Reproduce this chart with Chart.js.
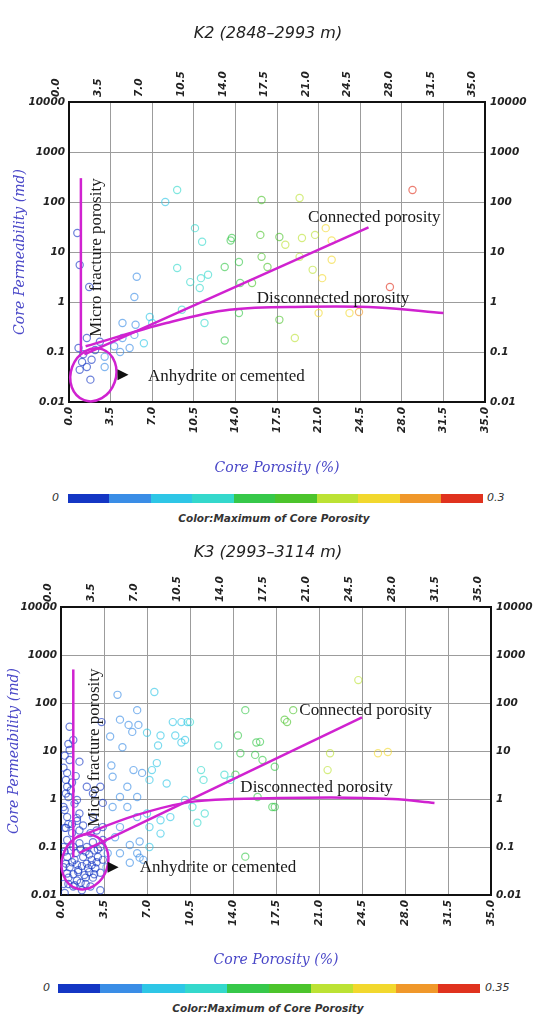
<!DOCTYPE html>
<html>
  <head>
    <meta charset="UTF-8" />
    <title>Core Porosity vs Core Permeability</title>
    <script src="https://cdn.jsdelivr.net/npm/chart.js"></script>
    <style>
      body {
        margin: 0;
        background: #fff;
        width: 536px;
        height: 1016px;
        position: relative;
        overflow: hidden;
      }
      canvas {
        position: absolute;
        left: 0;
      }
      .bar {
        position: absolute;
        height: 9px;
      }
      .barlabel {
        position: absolute;
        font: italic 11px "DejaVu Sans", sans-serif;
        color: #333;
        line-height: 12px;
      }
      .caption {
        position: absolute;
        width: 536px;
        text-align: center;
        font: italic bold 10.5px "DejaVu Sans", sans-serif;
        color: #333;
      }
    </style>
  </head>
  <body>
    <canvas id="k2" width="536" height="485" style="top: 0"></canvas>
    <div class="bar" id="bar2" style="left: 68px; top: 494px; width: 415px"></div>
    <div class="barlabel" style="left: 52px; top: 492px">0</div>
    <div class="barlabel" style="left: 487px; top: 492px">0.3</div>
    <div class="caption" style="left: 6px; top: 512px">Color:Maximum of Core Porosity</div>

    <canvas id="k3" width="536" height="460" style="top: 520px"></canvas>
    <div class="bar" id="bar3" style="left: 58px; top: 984px; width: 422px"></div>
    <div class="barlabel" style="left: 43px; top: 982px">0</div>
    <div class="barlabel" style="left: 485px; top: 982px">0.35</div>
    <div class="caption" style="left: 0px; top: 1002px">Color:Maximum of Core Porosity</div>

    <script>
      const porosityTicks = [0, 3.5, 7, 10.5, 14, 17.5, 21, 24.5, 28, 31.5, 35];
      const permTicks = [0.01, 0.1, 1, 10, 100, 1000, 10000];
      const colorScale = [
        "#1436c4", "#3a8de6", "#2ec6e6", "#34d8cc", "#36c84a",
        "#4cc42c", "#bce234", "#f2d82e", "#f0982a", "#e0321e",
      ];

      // K2 (2848-2993 m) core samples
      const k2Porosity = [
        9.1, 8.1, 10.6, 11.2, 13.6, 9.1, 10.2, 11.1, 11.7, 13.1, 11.0, 0.7, 0.9, 5.7, 5.5,
        1.7, 9.5, 11.4, 13.1, 4.5, 5.6, 5.5, 7.0, 6.3, 5.1, 2.6, 3.8, 1.5, 1.1, 1.5, 0.9,
        1.8, 3.0, 3.0, 4.5, 4.3, 28.9, 16.2, 19.4, 13.7, 16.1, 17.7, 18.2, 19.6, 20.7, 21.6,
        22.1, 14.3, 16.2, 16.7, 14.4, 15.4, 19.4, 20.5, 22.1, 21.3, 27.0, 23.6, 24.4, 17.7,
        19.0, 14.3, 21.0, 1.2, 2.2, 0.8, 1.9, 6.8,
      ];
      const k2Perm = [
        174, 100, 30, 16, 17, 4.8, 2.5, 3, 3.5, 5, 1.9, 24, 5.5, 3.2, 1.26,
        2, 0.7, 0.38, 0.17, 0.38, 0.35, 0.22, 0.38, 0.15, 0.12, 0.16, 0.13, 0.19, 0.063, 0.05, 0.044,
        0.028, 0.05, 0.08, 0.19, 0.1, 174, 110, 120, 19, 22, 20, 14, 19, 22, 30,
        17, 6.3, 8, 5, 2.4, 2.4, 8, 4.4, 7, 3, 2, 0.6, 0.63, 0.44,
        0.19, 0.6, 0.6, 0.09, 0.11, 0.12, 0.07, 0.5,
      ];

      // K3 (2993-3114 m) core samples
      const k3Porosity = [
        7.6, 4.6, 6.2, 4.8, 5.5, 6.3, 5.8, 3.3, 4.0, 7.0, 8.1, 9.3, 9.8, 7.9, 5.0, 1.0, 0.7,
        0.7, 4.1, 5.9, 6.6, 7.4, 7.8, 7.2, 8.6, 5.4, 4.2, 6.2, 4.8, 0.5, 0.5, 0.6, 1.3, 2.1,
        2.6, 3.2, 3.4, 4.2, 5.4, 6.2, 7.0, 8.1, 8.9, 7.2, 8.1, 6.4, 7.2, 5.6, 6.2, 6.7, 5.6,
        4.8, 4.4, 4.8, 3.4, 2.6, 1.5, 0.5, 0.2,
        0.5, 1.0, 1.5, 2.1, 2.6, 3.2, 0.5, 1.1, 1.8, 2.5, 3.0, 0.7, 1.4, 2.2, 2.8, 0.6, 1.3,
        2.0, 2.6, 1.0, 1.7, 2.4, 0.3, 0.2, 0.2, 0.9, 1.5, 2.4, 2.9, 3.4, 3.4, 3.2, 3.8, 3.7,
        3.2, 0.7, 0.3, 0.4, 0.8, 1.2, 0.3, 1.5, 0.6,
        0.3, 0.8, 1.2, 1.6, 2.0, 2.3, 2.7, 3.0, 0.4, 0.9, 1.3, 1.7, 2.1, 2.5, 2.9, 0.5, 1.0,
        1.4, 1.9, 2.3, 2.7, 0.2, 0.6, 1.1, 1.6, 2.0, 0.4, 0.9, 1.3, 1.8,
        0.4, 0.9, 0.2, 1.1, 0.6, 0.3, 1.3,
        15.0, 18.2, 21.7, 24.2, 10.5, 10.1, 12.8, 14.4, 15.8, 16.4, 14.6, 17.4, 13.3, 14.2,
        11.6, 10.1, 10.7, 11.7, 11.1, 17.4, 16.0, 15.0, 18.4, 16.2, 21.9, 26.6, 25.8, 17.2,
        18.9, 9.8, 10.3, 9.1, 15.9, 13.8, 11.4, 6.4,
      ];
      const k3Perm = [
        170, 148, 71, 45, 35, 35, 25, 40, 20, 24, 21, 21, 15, 13, 12, 17, 32,
        6.5, 5, 4, 3.5, 4, 5.6, 2.5, 2.1, 1.8, 2.9, 1.1, 1.1, 3.5, 1.8, 1.1, 0.95, 1.8,
        1.3, 1.8, 0.83, 0.68, 0.68, 0.42, 0.5, 0.36, 0.42, 0.26, 0.19, 0.13, 0.1, 0.11, 0.074, 0.054, 0.047,
        0.074, 0.16, 0.26, 0.26, 0.42, 0.5, 0.42, 0.68,
        0.14, 0.1, 0.12, 0.1, 0.126, 0.1, 0.062, 0.054, 0.062, 0.054, 0.062, 0.038, 0.033, 0.036, 0.036, 0.023, 0.02,
        0.023, 0.023, 0.015, 0.0126, 0.015, 0.011, 0.038, 0.1, 0.195, 0.22, 0.195, 0.22, 0.14, 0.054, 0.029, 0.074, 0.038,
        0.0126, 10.5, 0.59, 2.5, 1.5, 3, 8, 6, 0.3,
        0.08, 0.085, 0.075, 0.09, 0.08, 0.07, 0.085, 0.09, 0.045, 0.048, 0.043, 0.04, 0.045, 0.042, 0.048, 0.028, 0.027,
        0.03, 0.026, 0.03, 0.027, 0.017, 0.017, 0.016, 0.018, 0.017, 0.25, 0.3, 0.35, 0.28,
        1.3, 2.2, 4.5, 0.8, 14, 0.25, 0.4,
        71, 45, 4, 300, 40, 17, 13, 21, 8.3, 6.5, 9, 4.7, 3.2, 3.2,
        2.5, 0.95, 0.68, 0.5, 0.32, 0.68, 1.1, 0.063, 40, 15.5, 9, 9.5, 9, 0.68,
        71, 40, 40, 40, 15, 2.5, 4, 0.06,
      ];

      // interpretation lines (porosity %, permeability md)
      const k2MicroX = [1.0, 1.0];
      const k2MicroY = [0.1, 300];
      const k2ConnX = [1.3, 25.2];
      const k2ConnY = [0.09, 31];
      const k2DiscX = [1.4, 8.2, 13.5, 20, 26, 31.5];
      const k2DiscY = [0.13, 0.38, 0.7, 0.8, 0.78, 0.6];

      const k3MicroX = [1.0, 1.0];
      const k3MicroY = [0.06, 500];
      const k3ConnX = [1.5, 24.5];
      const k3ConnY = [0.075, 50];
      const k3DiscX = [1.3, 6, 10.3, 14, 22, 27, 30.4];
      const k3DiscY = [0.16, 0.45, 0.85, 1.0, 1.08, 1.0, 0.83];

      const k2Notes = {
        ellipse: { x: 2.05, y: 0.035, dx: 1.9, dy: 0.54, rot: 0.35 },
        arrow: { x: 4.5, y: 0.035 },
        labels: [
          { text: "Connected porosity", x: 20.1, y: 48 },
          { text: "Disconnected porosity", x: 15.8, y: 1.2 },
          { text: "Anhydrite or cemented", x: 6.65, y: 0.033 },
          { text: "Micro fracture porosity", x: 2.35, y: 0.2, vertical: true },
        ],
      };
      const k3Notes = {
        ellipse: { x: 1.95, y: 0.049, dx: 1.87, dy: 0.58, rot: 0.3 },
        arrow: { x: 4.2, y: 0.038 },
        labels: [
          { text: "Connected porosity", x: 19.4, y: 71 },
          { text: "Disconnected porosity", x: 14.6, y: 1.7 },
          { text: "Anhydrite or cemented", x: 6.4, y: 0.038 },
          { text: "Micro fracture porosity", x: 2.75, y: 0.26, vertical: true },
        ],
      };

      const magenta = "#d022d0";
      const axisBlue = "#4a48c8";
      const tickFont = { family: "DejaVu Sans", size: 10.5, style: "italic", weight: "bold" };

      function pts(xs, ys) {
        return xs.map((v, i) => ({ x: v, y: ys[i] }));
      }

      function binColor(x, maxPor) {
        let i = Math.floor((x / maxPor) * colorScale.length);
        i = Math.max(0, Math.min(colorScale.length - 1, i));
        return colorScale[i] + "a0";
      }

      function notesPlugin(notes) {
        return {
          id: "notes",
          afterDatasetsDraw(chart) {
            const { ctx } = chart;
            const x = chart.scales.x;
            const y = chart.scales.y;
            ctx.save();
            const e = notes.ellipse;
            const cx = x.getPixelForValue(e.x);
            const cy = y.getPixelForValue(e.y);
            const rx = x.getPixelForValue(e.x + e.dx) - cx;
            const ry = cy - y.getPixelForValue(e.y * Math.pow(10, e.dy));
            ctx.strokeStyle = magenta;
            ctx.lineWidth = 2.5;
            ctx.beginPath();
            ctx.ellipse(cx, cy, rx, ry, e.rot, 0, Math.PI * 2);
            ctx.stroke();

            const ax = x.getPixelForValue(notes.arrow.x);
            const ay = y.getPixelForValue(notes.arrow.y);
            ctx.fillStyle = "#111";
            ctx.beginPath();
            ctx.moveTo(ax - 5, ay - 5.5);
            ctx.lineTo(ax + 6, ay);
            ctx.lineTo(ax - 5, ay + 5.5);
            ctx.closePath();
            ctx.fill();

            ctx.font = '17px "Liberation Serif", serif';
            ctx.fillStyle = "#1a1a1a";
            ctx.textBaseline = "middle";
            ctx.textAlign = "left";
            notes.labels.forEach((l) => {
              const px = x.getPixelForValue(l.x);
              const py = y.getPixelForValue(l.y);
              if (l.vertical) {
                ctx.save();
                ctx.translate(px, py);
                ctx.rotate(-Math.PI / 2);
                ctx.fillText(l.text, 0, 0);
                ctx.restore();
              } else {
                ctx.fillText(l.text, px, py);
              }
            });
            ctx.restore();
          },
        };
      }

      function makeChart(id, o) {
        const lineStyle = {
          showLine: true,
          pointRadius: 0,
          borderColor: magenta,
          borderWidth: 2.5,
          order: 0,
        };
        const xBase = {
          type: "linear",
          min: 0,
          max: 35,
          afterBuildTicks: (s) => {
            s.ticks = porosityTicks.map((v) => ({ value: v }));
          },
          ticks: {
            minRotation: 90,
            maxRotation: 90,
            autoSkip: false,
            padding: 5,
            color: "#222",
            font: tickFont,
            callback: (v) => Number(v).toFixed(1),
          },
          border: { display: true, color: "#111", width: 2 },
        };
        const yBase = {
          type: "logarithmic",
          min: 0.01,
          max: 10000,
          afterBuildTicks: (s) => {
            s.ticks = permTicks.map((v) => ({ value: v }));
          },
          ticks: {
            padding: 4,
            color: "#222",
            font: tickFont,
            callback: (v) => String(v),
          },
          border: { display: true, color: "#111", width: 2 },
        };
        return new Chart(document.getElementById(id), {
          type: "scatter",
          data: {
            datasets: [
              { data: pts(o.micro[0], o.micro[1]), ...lineStyle },
              { data: pts(o.conn[0], o.conn[1]), ...lineStyle },
              { data: pts(o.disc[0], o.disc[1]), ...lineStyle, tension: 0.35 },
              {
                data: pts(o.por, o.perm),
                order: 1,
                pointRadius: 3.6,
                pointBorderWidth: 1.2,
                pointBackgroundColor: "rgba(0,0,0,0)",
                pointBorderColor: (c) => (c.raw ? binColor(c.raw.x, o.maxPor) : "#000"),
              },
            ],
          },
          options: {
            responsive: false,
            animation: false,
            layout: { padding: 0 },
            plugins: {
              legend: { display: false },
              tooltip: { enabled: false },
              title: {
                display: true,
                text: o.title,
                color: "#222",
                font: { family: "DejaVu Sans", size: 16, style: "italic", weight: "normal" },
                padding: { top: o.titleTop, bottom: 0 },
              },
            },
            scales: {
              x: {
                ...xBase,
                position: "bottom",
                grid: { color: "#9c9c9c", lineWidth: 1, drawTicks: false },
                title: {
                  display: true,
                  text: "Core Porosity (%)",
                  color: axisBlue,
                  font: { family: "DejaVu Serif", size: 14, style: "italic" },
                  padding: { top: 0, bottom: o.xTitlePad },
                },
                afterFit: (s) => {
                  s.height = o.bottomH;
                },
              },
              x2: {
                ...xBase,
                position: "top",
                grid: { display: false, drawTicks: false },
                afterFit: (s) => {
                  s.height = o.topH;
                },
              },
              y: {
                ...yBase,
                position: "left",
                grid: { color: "#9c9c9c", lineWidth: 1, drawTicks: false },
                title: {
                  display: true,
                  text: "Core Permeability (md)",
                  color: axisBlue,
                  font: { family: "DejaVu Serif", size: 14, style: "italic" },
                  padding: { top: o.yTitlePad, bottom: 0 },
                },
                afterFit: (s) => {
                  s.width = o.leftW;
                },
              },
              y2: {
                ...yBase,
                position: "right",
                grid: { display: false, drawTicks: false },
                ticks: { ...yBase.ticks, padding: 5 },
                afterFit: (s) => {
                  s.width = o.rightW;
                },
              },
            },
          },
          plugins: [notesPlugin(o.notes)],
        });
      }

      makeChart("k2", {
        title: "K2 (2848–2993 m)",
        titleTop: 24,
        topH: 58.8,
        bottomH: 83,
        leftW: 69,
        rightW: 51,
        xTitlePad: 8.6,
        yTitlePad: 11.6,
        maxPor: 30,
        por: k2Porosity,
        perm: k2Perm,
        micro: [k2MicroX, k2MicroY],
        conn: [k2ConnX, k2ConnY],
        disc: [k2DiscX, k2DiscY],
        notes: k2Notes,
      });

      makeChart("k3", {
        title: "K3 (2993–3114 m)",
        titleTop: 23.4,
        topH: 44.4,
        bottomH: 85,
        leftW: 61,
        rightW: 45,
        xTitlePad: 11.6,
        yTitlePad: 5.6,
        maxPor: 35,
        por: k3Porosity,
        perm: k3Perm,
        micro: [k3MicroX, k3MicroY],
        conn: [k3ConnX, k3ConnY],
        disc: [k3DiscX, k3DiscY],
        notes: k3Notes,
      });

      // colour bars built from the same colour scale
      function fillBar(id) {
        const n = colorScale.length;
        const stops = colorScale
          .map((c, i) => c + " " + (i * 100) / n + "%, " + c + " " + ((i + 1) * 100) / n + "%")
          .join(", ");
        document.getElementById(id).style.background = "linear-gradient(to right, " + stops + ")";
      }
      fillBar("bar2");
      fillBar("bar3");
    </script>
  </body>
</html>
